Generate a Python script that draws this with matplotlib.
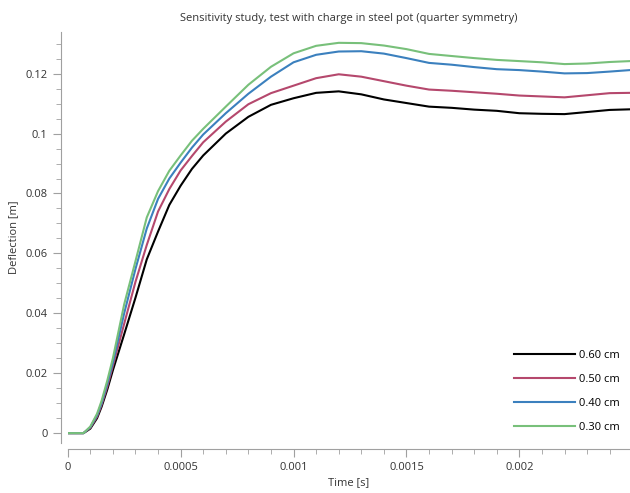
import matplotlib
matplotlib.use("Agg")
import matplotlib.pyplot as plt
from matplotlib.ticker import MultipleLocator, FuncFormatter

plt.rcParams['font.family'] = ['Open Sans', 'DejaVu Sans']

# time [s]
time = [0, 0.00007, 0.0001, 0.00013, 0.00015, 0.000175, 0.0002, 0.00025, 0.0003,
        0.00035, 0.0004, 0.00045, 0.0005, 0.00055, 0.0006, 0.0007, 0.0008, 0.0009,
        0.001, 0.0011, 0.0012, 0.0013, 0.0014, 0.0015, 0.0016, 0.0017, 0.0018,
        0.0019, 0.002, 0.0021, 0.0022, 0.0023, 0.0024, 0.00249]

# deflection [m] per wall thickness
d_060 = [0, 0, 0.0015, 0.005, 0.0088, 0.0145, 0.021, 0.033, 0.0452,
         0.058, 0.0673, 0.0762, 0.0826, 0.0882, 0.0927, 0.1000, 0.1056, 0.1096,
         0.1118, 0.1136, 0.1141, 0.1131, 0.1114, 0.1102, 0.1090, 0.1086, 0.1080,
         0.1076, 0.1068, 0.1066, 0.1065, 0.1072, 0.1079, 0.1081]
d_050 = [0, 0, 0.0018, 0.0055, 0.0095, 0.0155, 0.0225, 0.0365, 0.0505,
         0.0628, 0.0740, 0.0815, 0.0877, 0.0925, 0.0971, 0.1040, 0.1098, 0.1135,
         0.1160, 0.1185, 0.1198, 0.1190, 0.1175, 0.1160, 0.1147, 0.1143, 0.1138,
         0.1133, 0.1127, 0.1124, 0.1121, 0.1128, 0.1135, 0.1136]
d_040 = [0, 0, 0.002, 0.006, 0.010, 0.0165, 0.0235, 0.040, 0.0548,
         0.0683, 0.0782, 0.0850, 0.0903, 0.0953, 0.0997, 0.1068, 0.1133, 0.1190,
         0.1238, 0.1263, 0.1274, 0.1275, 0.1267, 0.1252, 0.1236, 0.1230, 0.1222,
         0.1215, 0.1212, 0.1207, 0.1201, 0.1202, 0.1207, 0.1212]
d_030 = [0, 0, 0.0022, 0.0065, 0.0108, 0.0175, 0.025, 0.043, 0.0574,
         0.0720, 0.0808, 0.0876, 0.0927, 0.0976, 0.1016, 0.1090, 0.1163, 0.1223,
         0.1268, 0.1293, 0.1303, 0.1302, 0.1294, 0.1282, 0.1266, 0.1259, 0.1252,
         0.1246, 0.1242, 0.1238, 0.1232, 0.1234, 0.1239, 0.1242]

labels = ['0.60 cm', '0.50 cm', '0.40 cm', '0.30 cm']
colors = ['#000000', '#b5486d', '#3b80be', '#78c07a']

fig = plt.figure(figsize=(6.3, 4.93), dpi=100)
ax = fig.add_axes([0.1075, 0.1014, 0.8925, 0.8336])

for d, lab, c in zip([d_060, d_050, d_040, d_030], labels, colors):
    ax.plot(time, d, color=c, lw=1.5, label=lab)

ax.set_xlim(0, 0.00249)
ax.set_ylim(-0.0033, 0.1339)

ax.xaxis.set_major_locator(MultipleLocator(0.0005))
ax.xaxis.set_minor_locator(MultipleLocator(0.0001))
ax.yaxis.set_major_locator(MultipleLocator(0.02))
ax.yaxis.set_minor_locator(MultipleLocator(0.005))
fmt = FuncFormatter(lambda v, p: '%g' % round(v, 6))
ax.xaxis.set_major_formatter(fmt)
ax.yaxis.set_major_formatter(fmt)

for s in ['top', 'right']:
    ax.spines[s].set_visible(False)
ax.spines['left'].set_position(('outward', 5))
ax.spines['bottom'].set_position(('outward', 4.5))
for s in ['left', 'bottom']:
    ax.spines[s].set_color('#a0a0a0')
ax.tick_params(which='major', length=6, color='#a0a0a0', labelsize=8, labelcolor='#333333')
ax.tick_params(which='minor', length=3.5, color='#a0a0a0')

ax.set_xlabel('Time [s]', fontsize=8, color='#333333')
ax.xaxis.set_label_coords(0.499, -0.083)
ax.set_ylabel('Deflection [m]', fontsize=8, color='#333333')
ax.yaxis.set_label_coords(-0.087, 0.5)
ax.set_title('Sensitivity study, test with charge in steel pot (quarter symmetry)',
             fontsize=8, color='#333333', pad=8)

ax.legend(loc='lower right', frameon=False, fontsize=8, handlelength=5.5,
          labelspacing=1.17, handletextpad=0.4, bbox_to_anchor=(1.0, 0.0))

fig.savefig('out.png', dpi=100)
